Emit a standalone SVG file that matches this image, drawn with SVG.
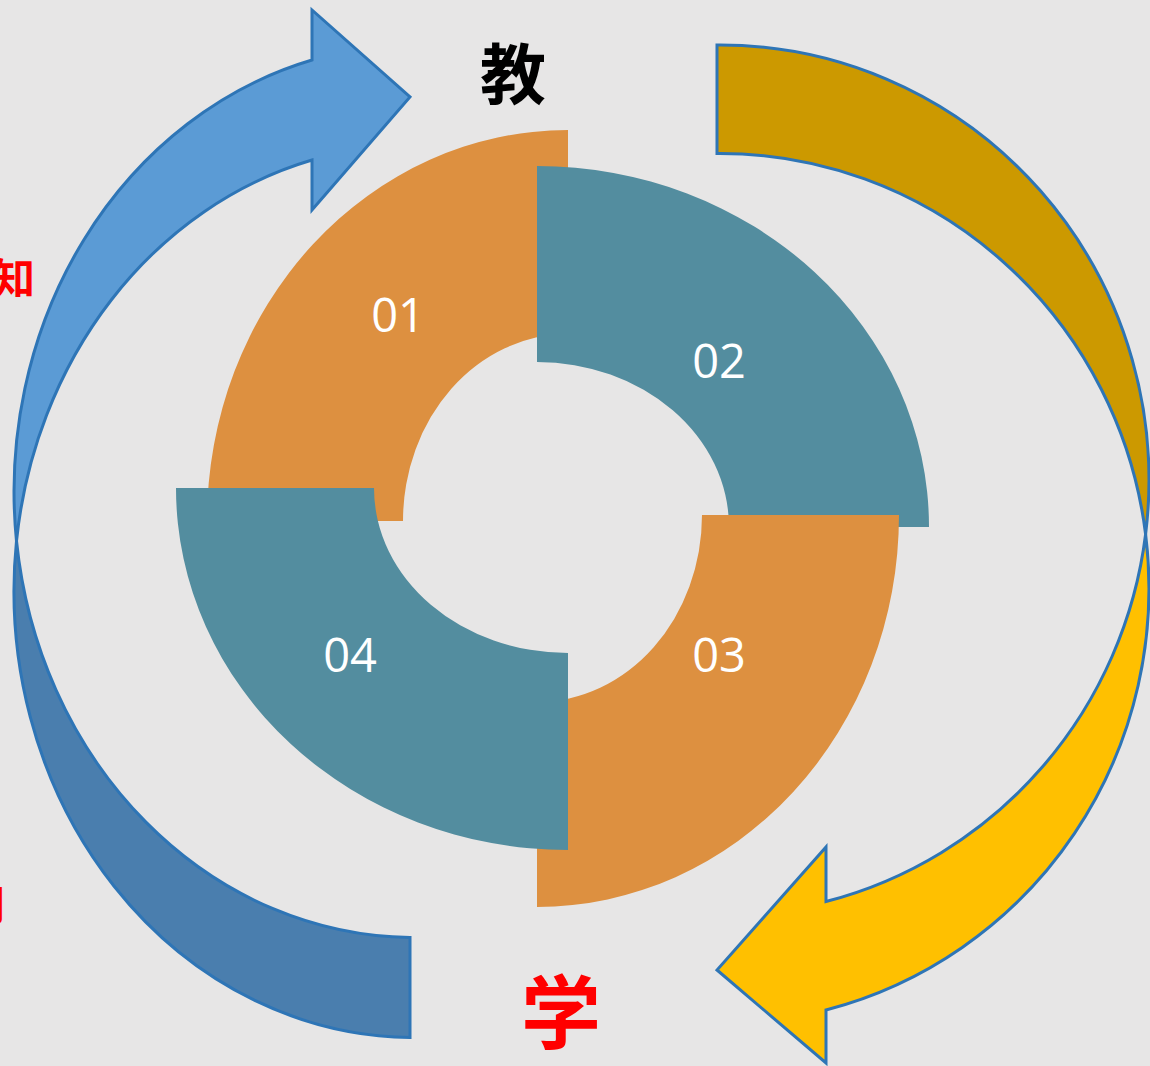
<svg xmlns="http://www.w3.org/2000/svg" width="1150" height="1066" viewBox="0 0 1150 1066">
<style>
.arr{stroke:#2E75B6;stroke-width:3;stroke-linejoin:miter}
.num{font-family:"Open Sans","Noto Sans",sans-serif;font-size:47px;fill:#FFFFFF;text-anchor:middle}
.cjk{font-family:"Noto Sans CJK SC","Noto Sans CJK JP",sans-serif;font-weight:bold}
</style>
<rect x="0" y="0" width="1150" height="1066" fill="#E7E6E6"/>
<g id="arrow-blue">
<path class="arr" fill="#4A7EAE" d="M 410,1037.6 A 401 446.6 0 0 1 16.5,541 A 401 446.6 0 0 0 410,937.6 Z"/>
<path class="arr" fill="#5B9BD5" d="M 312,60 A 401 446.6 0 0 0 16.5,541 A 401 446.6 0 0 1 312,160 L 312,210 L 410,97 L 312,10 Z"/>
</g>
<g id="arrow-gold">
<path class="arr" fill="#CC9900" d="M 717,45 A 429 435 0 0 1 1145.6,534.25 A 429 435 0 0 0 717,153.5 Z"/>
<path class="arr" fill="#FFC000" d="M 1145.6,534.25 A 429 435 0 0 1 826,1010 L 826,1063 L 717,970 L 826,847 L 826,901.5 A 429 435 0 0 0 1145.6,534.25 Z"/>
</g>
<g id="seg01">
<path fill="#DD9040" d="M 568,130 L 568,334 A 165 187 0 0 0 403,521 L 207,521 A 361 391 0 0 1 568,130 Z"/>
<text class="num" x="398" y="332">01</text>
</g>
<g id="seg02">
<path fill="#538D9F" d="M 537,166 A 392 361 0 0 1 929,527 L 729,527 A 192 165 0 0 0 537,362 Z"/>
<text class="num" x="719" y="378">02</text>
</g>
<g id="seg03">
<path fill="#DD9040" d="M 899,515 A 362 392 0 0 1 537,907 L 537,702 A 165 187 0 0 0 702,515 Z"/>
<text class="num" x="719" y="672">03</text>
</g>
<g id="seg04">
<path fill="#538D9F" d="M 568,850 A 392 362 0 0 1 176,488 L 374,488 A 194 165 0 0 0 568,653 Z"/>
<text class="num" x="350" y="672">04</text>
</g>
<g id="labels">
<text class="cjk" x="513" y="99" font-size="66" fill="#000000" text-anchor="middle">教</text>
<text class="cjk" x="561" y="1042" font-size="80" fill="#FF0000" text-anchor="middle">学</text>
<text class="cjk" x="35" y="294" font-size="42" fill="#FF0000" text-anchor="end">知</text>
<text class="cjk" x="-36" y="920" font-size="42" fill="#FF0000">用</text>
</g>
</svg>
